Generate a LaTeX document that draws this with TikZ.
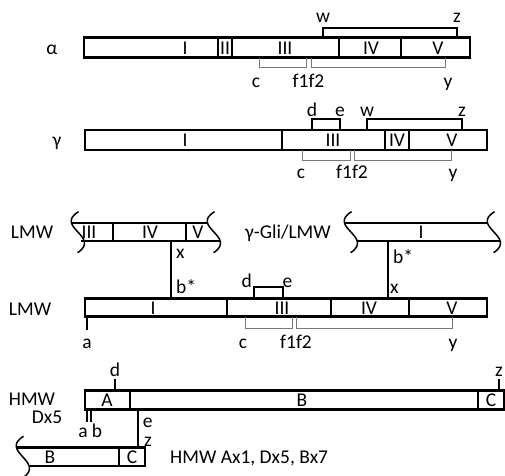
\documentclass[tikz,border=0pt]{standalone}
\usepackage{fontspec}
\setmainfont{Carlito}
\definecolor{brgray}{RGB}{120,120,120}
\newcommand\wavecut[3]{\draw[wave] ({#1+3},{#2-11}) .. controls ({#1-22},{#2+4}) and ({#1+26},{#3-4}) .. ({#1+2},{#3+12});}
\begin{document}
\begin{tikzpicture}[x=1pt,y=-1pt,
  box/.style={draw=black,line width=2.6pt,fill=white},
  lab/.style={inner sep=0pt,anchor=base,font=\fontsize{19.5}{23}\selectfont},
  labw/.style={lab,anchor=base west},
  labe/.style={lab,anchor=base east},
  brk/.style={draw=black,line width=2pt},
  gbr/.style={draw=brgray,line width=1pt},
  conn/.style={draw=black,line width=2.2pt},
  frag/.style={draw=black,line width=2.4pt},
  wave/.style={draw=black,line width=1.5pt}
]
\useasboundingbox (0,0) rectangle (505,475);

% ---------------- alpha ----------------
\draw[box] (84,37.5) rectangle (470,57.5);
\foreach \x in {218,232,339,401} \draw[box] (\x,37.5) -- (\x,57.5);
\node[lab] (aname) at (52,54.5) {α};
\node[lab] (aI) at (185,54.5) {I};
\node[lab] (aII) at (225,54.5) {II};
\node[lab] (aIII) at (285,54.5) {III};
\node[lab] (aIV) at (371,54.5) {IV};
\node[lab] (aV) at (438,54.5) {V};
\coordinate (aw) at (323,37.5); \coordinate (az) at (457,37.5);
\draw[brk] (aw) -- (323,27.5) -- (457,27.5) -- (az);
\node[lab] (awl) at (323,22) {w};
\node[lab] (azl) at (457,22) {z};
\draw[gbr] (259,57.5) -- (259,67.7) -- (306,67.7) -- (306,57.5);
\draw[gbr] (311,57.5) -- (311,67.7) -- (445,67.7) -- (445,57.5);
\node[lab] (acl) at (256,87) {c};
\node[lab] (afl) at (308.5,87) {f1f2};
\node[lab] (ayl) at (448,87) {y};

% ---------------- gamma ----------------
\draw[box] (85,130) rectangle (487,150);
\foreach \x in {282,385,409} \draw[box] (\x,130) -- (\x,150);
\node[lab] (gname) at (57,146.5) {γ};
\node[lab] (gI) at (185,146.5) {I};
\node[lab] (gIII) at (333,146.5) {III};
\node[lab] (gIV) at (397,146.5) {IV};
\node[lab] (gV) at (452,146.5) {V};
\draw[brk] (312,130) -- (312,119.3) -- (340,119.3) -- (340,130);
\node[lab] (gdl) at (312,116) {d};
\node[lab] (gel) at (340,116) {e};
\draw[brk] (367,130) -- (367,119.3) -- (462,119.3) -- (462,130);
\node[lab] (gwl) at (367,116.5) {w};
\node[lab] (gzl) at (462,116.5) {z};
\draw[gbr] (302.5,150) -- (302.5,160.5) -- (350,160.5) -- (350,150);
\draw[gbr] (354.3,150) -- (354.3,160.5) -- (451.7,160.5) -- (451.7,150);
\node[lab] (gcl) at (301,178) {c};
\node[lab] (gfl) at (352,178) {f1f2};
\node[lab] (gyl) at (453,178) {y};

% ---------------- LMW fragments ----------------
\draw[frag] (72,222.7) -- (208,222.7);
\draw[frag] (81,240.7) -- (220,240.7);
\wavecut{75.6}{222.7}{240.7}
\wavecut{211.6}{222.7}{240.7}
\foreach \x in {113,186} \draw[frag] (\x,222.7) -- (\x,240.7);
\node[lab] (flname) at (32,238) {LMW};
\node[lab] (flIII) at (89,238) {III};
\node[lab] (flIV) at (150,238) {IV};
\node[lab] (flV) at (198,238) {V};

\draw[frag] (345,222.7) -- (488,222.7);
\draw[frag] (357,240.7) -- (500,240.7);
\wavecut{348.6}{222.7}{240.7}
\wavecut{491.6}{222.7}{240.7}
\node[labe] (frname) at (331,238) {γ-Gli/LMW};
\node[lab] (frI) at (421,238) {I};

% ---------------- LMW main ----------------
\draw[box] (85,298.3) rectangle (487,316.7);
\foreach \x in {227,331,409} \draw[box] (\x,298.3) -- (\x,316.7);
\node[lab] (lname) at (30,315) {LMW};
\node[lab] (lI) at (153,314) {I};
\node[lab] (lIII) at (282,314) {III};
\node[lab] (lIV) at (369,314) {IV};
\node[lab] (lV) at (452,314) {V};

\coordinate (c1top) at (171,240.7); \coordinate (c1bot) at (171,298.3);
\draw[conn] (c1top) -- (c1bot);
\node[labw] (c1x) at (176,258) {x};
\node[labw] (c1b) at (176,293) {b*};
\coordinate (c2top) at (388,240.7); \coordinate (c2bot) at (388,298.3);
\draw[conn] (c2top) -- (c2bot);
\node[labw] (c2b) at (393,263) {b*};
\node[labw] (c2x) at (390,293) {x};

\draw[brk] (254,298.3) -- (254,287.3) -- (283,287.3) -- (283,298.3);
\node[lab] (ldl) at (246.7,287.3) {d};
\node[lab] (lel) at (287.5,287.3) {e};
\draw[draw=black,line width=2.5pt] (87,316.7) -- (87,330);
\node[lab] (lal) at (87,348) {a};
\draw[gbr] (245,316.7) -- (245,328.3) -- (292,328.3) -- (292,316.7);
\draw[gbr] (296,316.7) -- (296,328.3) -- (452,328.3) -- (452,316.7);
\node[lab] (lcl) at (243,348) {c};
\node[lab] (lfl) at (296,348) {f1f2};
\node[lab] (lyl) at (453,348) {y};

% ---------------- HMW ----------------
\draw[box] (85,390.7) rectangle (504,409.3);
\foreach \x in {130,478} \draw[box] (\x,390.7) -- (\x,409.3);
\node[lab] (hname) at (32,405) {HMW};
\node[lab] (hdx) at (47,423) {Dx5};
\node[lab] (hA) at (107,406.3) {A};
\node[lab] (hB) at (302,406.3) {B};
\node[lab] (hC) at (491,406.3) {C};
\draw[brk] (115,379) -- (115,390.7);
\node[lab] (hdl) at (115,376.7) {d};
\draw[brk] (499,379) -- (499,390.7);
\node[lab] (hzl) at (499,376.7) {z};
\draw[draw=black,line width=1.5pt] (87,409.3) -- (87,422);
\draw[draw=black,line width=1.5pt] (91,409.3) -- (91,422);
\node[lab] (hal) at (83,437) {a};
\node[lab] (hbl) at (97,437) {b};

\coordinate (c3top) at (138,409.3); \coordinate (c3bot) at (138,447.3);
\draw[conn] (c3top) -- (c3bot);
\node[lab] (c3e) at (147.7,427.5) {e};
\node[lab] (c3z) at (148,446) {z};

\draw[frag] (17,447.3) -- (145,447.3) -- (145,466) -- (29.6,466);
\wavecut{20.6}{447.3}{466}
\draw[frag] (119,447.3) -- (119,466);
\node[lab] (lfB) at (50,463) {B};
\node[lab] (lfC) at (132,463) {C};
\node[labw] (cap) at (170,463) {HMW Ax1, Dx5, Bx7};
\end{tikzpicture}
\end{document}
